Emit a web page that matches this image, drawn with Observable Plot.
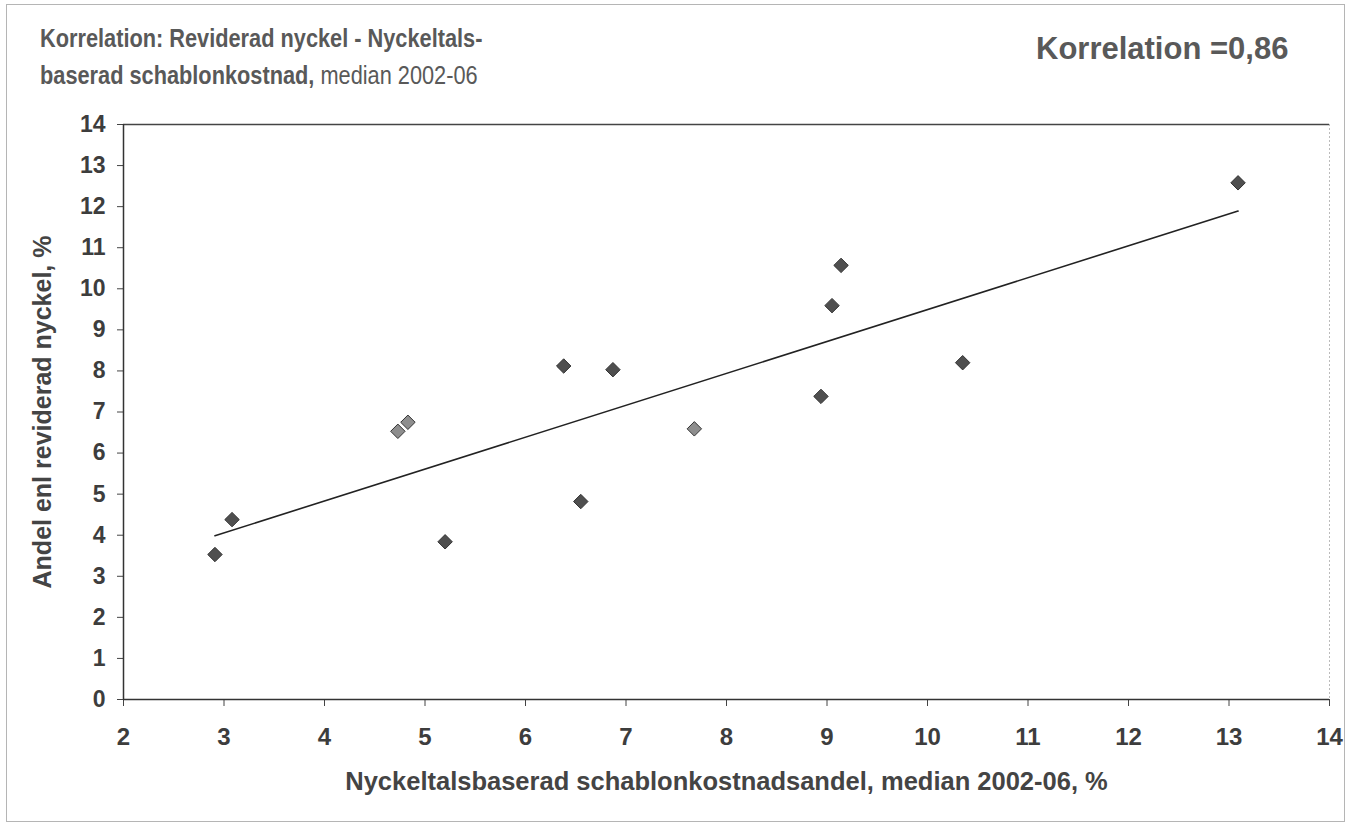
<!DOCTYPE html>
<html>
<head>
<meta charset="utf-8">
<script src="https://cdn.jsdelivr.net/npm/d3@7"></script>
<script src="https://cdn.jsdelivr.net/npm/@observablehq/plot@0.6"></script>
<style>
  html, body { margin: 0; padding: 0; background: #fff; }
  #wrap { position: relative; width: 1351px; height: 833px; font-family: "Liberation Sans", Arial, sans-serif; }
  #chart { position: absolute; left: 0; top: 0; }
  #border { position: absolute; left: 6px; top: 4px; width: 1339px; height: 818px; border: 1px solid #b5b5b5; box-sizing: border-box; pointer-events: none; }
  #title { position: absolute; left: 40px; top: 20px; font-size: 25px; line-height: 37px; color: #595959; white-space: nowrap; transform: scaleX(0.87); transform-origin: 0 0; }
  #corr { position: absolute; left: 1036px; top: 34px; font-size: 31px; font-weight: bold; color: #595959; white-space: nowrap; line-height: 30px; }
</style>
</head>
<body>
<div id="wrap">
  <div id="chart"></div>
  <div id="border"></div>
  <div id="title"><b>Korrelation: Reviderad nyckel - Nyckeltals-<br>baserad schablonkostnad,</b> median 2002-06</div>
  <div id="corr">Korrelation =0,86</div>
</div>
<script>
// Data
const xValues = [2.91, 3.08, 4.73, 4.83, 5.20, 6.38, 6.55, 6.87, 7.68, 8.94, 9.05, 9.14, 10.35, 13.09];
const yValues = [3.53, 4.38, 6.53, 6.75, 3.84, 8.12, 4.82, 8.03, 6.59, 7.38, 9.59, 10.57, 8.20, 12.58];
const shades  = ["dark", "dark", "light", "light", "dark", "dark", "dark", "dark", "light", "dark", "dark", "dark", "dark", "dark"];
const xTicks = [2, 3, 4, 5, 6, 7, 8, 9, 10, 11, 12, 13, 14];
const yTicks = [0, 1, 2, 3, 4, 5, 6, 7, 8, 9, 10, 11, 12, 13, 14];
const xTitle = "Nyckeltalsbaserad schablonkostnadsandel, median 2002-06, %";
const yTitle = "Andel enl reviderad nyckel, %";

const data = xValues.map((x, i) => ({x, y: yValues[i], shade: shades[i]}));

const chart = Plot.plot({
  width: 1351,
  height: 833,
  marginLeft: 123,
  marginRight: 22,
  marginTop: 124,
  marginBottom: 134,
  style: {fontFamily: "'Liberation Sans', Arial, sans-serif", background: "transparent", overflow: "visible"},
  x: {domain: [2, 14]},
  y: {domain: [0, 14]},
  color: {domain: ["dark", "light"], range: ["#4f4f4f", "#8e8e8e"]},
  marks: [
    Plot.ruleX([14], {stroke: "#bbb", strokeDasharray: "2,2", strokeWidth: 1}),
    Plot.ruleY([14], {stroke: "#444", strokeWidth: 1.5}),
    Plot.axisY({ticks: yTicks, tickSize: 6, tickPadding: 12, fontSize: 23, fontWeight: "bold", fill: "#3d3d3d", stroke: "#444", label: null}),
    Plot.axisX({ticks: xTicks, tickSize: 7, tickPadding: 21, fontSize: 24, fontWeight: "bold", fill: "#3d3d3d", stroke: "#444", label: null}),
    Plot.ruleX([2], {stroke: "#333", strokeWidth: 1.5}),
    Plot.ruleY([0], {stroke: "#333", strokeWidth: 1.5}),
    Plot.text([yTitle], {frameAnchor: "left", dx: -81, rotate: -90, textAnchor: "middle", lineAnchor: "middle", fontSize: 25, fontWeight: "bold", fill: "#444"}),
    Plot.text([xTitle], {frameAnchor: "bottom", dy: 82, textAnchor: "middle", lineAnchor: "middle", fontSize: 25.5, fontWeight: "bold", fill: "#444"}),
    Plot.linearRegressionY(data, {x: "x", y: "y", ci: 0, stroke: "#222", strokeWidth: 1.6}),
    Plot.dot(data, {x: "x", y: "y", symbol: "diamond2", r: 6.5, fill: "shade", stroke: "#333", strokeWidth: 1})
  ]
});
document.getElementById("chart").append(chart);
</script>
</body>
</html>
